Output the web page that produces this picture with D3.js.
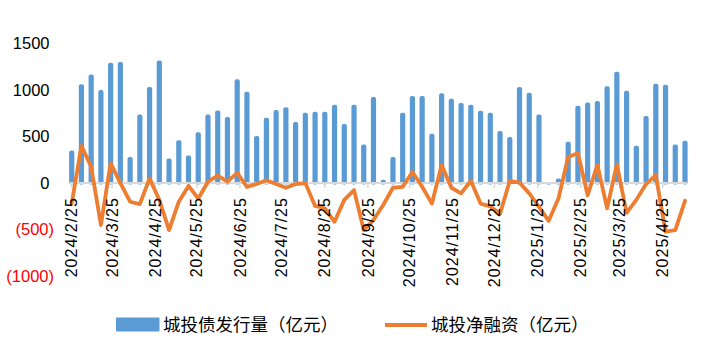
<!DOCTYPE html>
<html>
<head>
<meta charset="utf-8">
<script src="https://cdn.jsdelivr.net/npm/d3@7"></script>
<style>
  html, body { margin: 0; padding: 0; background: #fff; }
  svg { display: block; }
  text { font-family: "Liberation Sans", Arial, "Noto Sans CJK SC", sans-serif; }
</style>
</head>
<body>
<svg id="chart" width="709" height="355"></svg>
<script>
// ---- data ----
const startDate = "2024/2/25"; // first weekly observation
const issuance = [350,1060,1165,1000,1290,1300,280,735,1030,1315,265,460,295,545,735,780,
  710,1115,980,505,700,785,815,655,755,765,765,840,635,840,415,925,35,280,755,935,935,530,
  965,905,860,840,775,755,560,495,1030,970,735,0,50,445,830,865,880,1040,1195,990,400,720,
  1065,1055,415,455];
const netFinancing = [-220,400,175,-450,215,0,-200,-225,50,-180,-505,-200,-30,-165,15,80,
  15,110,-40,-10,30,-10,-50,-10,0,-245,-270,-415,-180,-75,-505,-395,-235,-50,-40,120,-40,
  -220,195,-50,-110,25,-220,-250,-330,25,5,-110,-255,-405,-165,280,320,-130,195,-270,200,
  -320,-180,-10,85,-520,-505,-190];
const xTickLabels = ["2024/2/25","2024/3/25","2024/4/25","2024/5/25","2024/6/25","2024/7/25",
  "2024/8/25","2024/9/25","2024/10/25","2024/11/25","2024/12/25","2025/1/25","2025/2/25",
  "2025/3/25","2025/4/25"];
const yTicks = [-1000,-500,0,500,1000,1500];
const seriesNames = ["城投债发行量（亿元）","城投净融资（亿元）"];

const parse = d3.timeParse("%Y/%m/%d");
const t0 = parse(startDate);
const dates = issuance.map((_, i) => d3.timeDay.offset(t0, 7 * i));

const svg = d3.select("#chart");
const barColor = "#5B9BD5", lineColor = "#ED7D31";

const x = d3.scaleTime()
  .domain([dates[0], dates[dates.length - 1]])
  .range([71.7, 685]);
const y = d3.scaleLinear().domain([-1000, 1500]).range([276.3, 43.3]);

// y axis labels
const fmt = v => v < 0 ? "(" + Math.abs(v) + ")" : String(v);
svg.append("g").selectAll("text").data(yTicks).join("text")
  .attr("x", d => d < 0 ? 54 : 49.5)
  .attr("y", d => y(d))
  .attr("dy", "0.35em")
  .attr("text-anchor", "end")
  .attr("font-size", 16.5)
  .attr("fill", d => d < 0 ? "#FF0000" : "#000")
  .text(fmt);

// bars
const bw = 5.2;
svg.append("g").selectAll("rect").data(issuance).join("rect")
  .attr("x", (d, i) => x(dates[i]) - bw / 2)
  .attr("y", d => y(Math.max(0, d)))
  .attr("width", bw)
  .attr("height", d => Math.abs(y(d) - y(0)) + 1.5)
  .attr("rx", 2)
  .attr("fill", barColor);

// x axis line + ticks
const y0 = y(0);
const axisG = svg.append("g");
axisG.append("line")
  .attr("x1", x(dates[0]) - 2).attr("x2", x(dates[dates.length - 1]) + 2)
  .attr("y1", y0).attr("y2", y0)
  .attr("stroke", "#D9D9D9").attr("stroke-width", 2);
const tickDates = xTickLabels.map(parse);
axisG.selectAll("line.tick").data(tickDates).join("line")
  .attr("class", "tick")
  .attr("x1", d => x(d)).attr("x2", d => x(d))
  .attr("y1", y0).attr("y2", y0 + 5)
  .attr("stroke", "#D9D9D9").attr("stroke-width", 1.5);

// line
const line = d3.line()
  .x((d, i) => x(dates[i]))
  .y(d => y(d));
svg.append("path")
  .datum(netFinancing)
  .attr("d", line)
  .attr("fill", "none")
  .attr("stroke", lineColor)
  .attr("stroke-width", 3.8)
  .attr("stroke-linejoin", "round")
  .attr("stroke-linecap", "round");

// x tick labels
svg.append("g").selectAll("text").data(xTickLabels).join("text")
  .attr("transform", d => `translate(${x(parse(d))},${y0 + 14}) rotate(-90)`)
  .attr("text-anchor", "end")
  .attr("dy", "0.35em")
  .attr("font-size", 16)
  .attr("letter-spacing", 1)
  .attr("fill", "#000")
  .text(d => d);

// legend
const lg = svg.append("g");
lg.append("rect").attr("x", 116).attr("y", 317.5).attr("width", 43.5).attr("height", 14)
  .attr("rx", 1).attr("fill", barColor);
lg.append("text").attr("x", 163).attr("y", 325).attr("dy", "0.35em")
  .attr("font-size", 17.5).attr("font-family", "'Noto Sans CJK SC', sans-serif")
  .text(seriesNames[0]);
lg.append("line").attr("x1", 385).attr("x2", 427).attr("y1", 325).attr("y2", 325)
  .attr("stroke", lineColor).attr("stroke-width", 4);
lg.append("text").attr("x", 431).attr("y", 325).attr("dy", "0.35em")
  .attr("font-size", 17.5).attr("font-family", "'Noto Sans CJK SC', sans-serif")
  .text(seriesNames[1]);
</script>
</body>
</html>
